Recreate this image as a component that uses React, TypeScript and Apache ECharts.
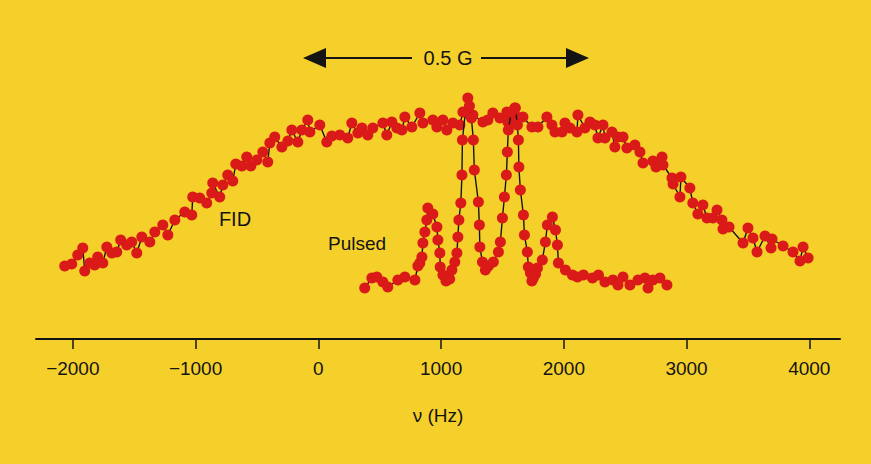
import React, { useEffect, useRef } from "react";
import * as echarts from "echarts";

// FID spectrum: frequency (Hz) and intensity (a.u.)
const fidHz = [
  -2066, -2009, -1960, -1919, -1903, -1862, -1822, -1797, -1756, -1723, -1682, -1642, -1610, -1561,
  -1520, -1479, -1438, -1373, -1332, -1267, -1226, -1169, -1088, -1031, -1023, -966, -909, -868,
  -860, -803, -778, -738, -697, -672, -623, -583, -550, -501, -452, -412, -395, -355, -297, -248,
  -216, -167, -134, -86, -69, 12, 69, 110, 175, 240, 273, 322, 355, 403, 444, 526, 558, 599, 640,
  681, 705, 762, 827, 852, 933, 966, 1015, 1047, 1096, 1153, 1178, 1218, 1235, 1259, 1341, 1381,
  1422, 1479, 1536, 1544, 1601, 1618, 1667, 1740, 1789, 1862, 1903, 1928, 1985, 2009, 2050, 2107,
  2115, 2172, 2213, 2253, 2278, 2319, 2335, 2392, 2416, 2441, 2482, 2514, 2579, 2620, 2645, 2726,
  2751, 2800, 2808, 2881, 2890, 2946, 2954, 3027, 3051, 3092, 3133, 3166, 3215, 3248, 3288, 3297,
  3346, 3460, 3500, 3541, 3574, 3639, 3688, 3696, 3786, 3867, 3924, 3949, 3990,
];
const fidVal = [
  73, 75, 84, 91, 68, 76, 74, 82, 76, 92, 86, 87, 99, 94,
  97, 86, 102, 97, 107, 114, 104, 119, 127, 124, 142, 141, 136, 146,
  156, 142, 154, 164, 158, 175, 173, 182, 173, 179, 187, 177, 196, 202, 192, 198,
  209, 197, 209, 219, 207, 214, 197, 203, 204, 201, 216, 206, 211, 204, 211, 216, 204, 217, 211,
  209, 222, 212, 226, 216, 219, 212, 219, 209, 216, 214, 227, 241, 224, 224, 217, 219,
  226, 221, 227, 217, 231, 222, 222, 212, 212, 222, 214, 207, 207, 216, 211, 207,
  224, 211, 217, 214, 201, 214, 201, 207, 192, 202, 202, 191, 194, 187, 176, 178,
  172, 182, 174, 161, 155, 142, 162, 151, 136, 125, 134, 121, 121, 129, 119, 110,
  112, 96, 111, 101, 87, 103, 91, 100, 93, 87, 78, 92, 81,
];

// Pulsed spectrum: frequency (Hz) and intensity (a.u.)
const pulsedHz = [
  378, 436, 477, 526, 566, 648, 705, 787, 811, 827, 844, 852, 868, 884, 892, 933, 966, 974, 990,
  993, 1015, 1040, 1055, 1070, 1088, 1112, 1129, 1137, 1145, 1161, 1170, 1174, 1198, 1231, 1247,
  1263, 1271, 1304, 1312, 1316, 1337, 1361, 1386, 1426, 1467, 1483, 1500, 1516, 1532, 1540, 1548,
  1573, 1605, 1622, 1630, 1634, 1646, 1671, 1679, 1703, 1711, 1728, 1740, 1752, 1770, 1785, 1825,
  1850, 1866, 1907, 1932, 1948, 1956, 2013, 2070, 2111, 2160, 2233, 2282, 2335, 2400, 2441, 2482,
  2539, 2604, 2661, 2686, 2726, 2783, 2840,
];
const pulsedVal = [
  51, 61, 62, 57, 52, 59, 62, 59, 73, 76, 82, 96, 107, 119, 131, 125, 112, 99, 86,
  72, 64, 58, 62, 60, 69, 77, 86, 102, 119, 136, 164, 199, 227, 233, 221,
  199, 169, 137, 114, 92, 77, 69, 73, 77, 87, 97, 121, 142, 164, 187, 209,
  227, 231, 214, 199, 172, 149, 124, 104, 87, 72, 66, 58, 61, 65, 71, 79,
  97, 114, 122, 109, 94, 76, 69, 64, 62, 64, 61, 64, 57, 59, 54, 62,
  54, 59, 61, 51, 59, 61, 54,
];

// Axis ticks
const tickValues = [-2000, -1000, 0, 1000, 2000, 3000, 4000];

const BG = "#f6d02a";
const DOT = "#da1a18";
const INK = "#141414";

export default function App() {
  const ref = useRef<HTMLDivElement>(null);

  useEffect(() => {
    document.body.style.margin = "0";
    const chart = echarts.init(ref.current!, undefined, { renderer: "svg" });
    const fid = fidHz.map((x, i) => [x, fidVal[i]]);
    const pulsed = pulsedHz.map((x, i) => [x, pulsedVal[i]]);
    const font = "'Liberation Sans', Arial, Helvetica, sans-serif";
    chart.setOption({
      animation: false,
      backgroundColor: BG,
      grid: { left: 36, right: 31, top: 89, bottom: 125 },
      xAxis: {
        type: "value",
        min: -2300,
        max: 4250,
        name: "ν (Hz)",
        nameLocation: "middle",
        nameGap: 67,
        nameTextStyle: { color: INK, fontSize: 19, fontFamily: font },
        splitLine: { show: false },
        axisLine: { show: true, onZero: false, lineStyle: { color: INK, width: 2 } },
        axisTick: {
          show: true,
          customValues: tickValues,
          length: 10,
          lineStyle: { color: INK, width: 1.5 },
        },
        axisLabel: {
          customValues: tickValues,
          color: INK,
          fontSize: 19,
          fontFamily: font,
          margin: 20,
          formatter: (v: number) => String(v).replace("-", "\u2212"),
        },
      },
      yAxis: { type: "value", min: 0, max: 250, show: false },
      series: [
        {
          name: "FID",
          type: "line",
          data: fid,
          symbol: "circle",
          symbolSize: 11,
          showSymbol: true,
          itemStyle: { color: DOT },
          lineStyle: { color: INK, width: 1.4 },
          emphasis: { disabled: true },
          z: 2,
        },
        {
          name: "Pulsed",
          type: "line",
          data: pulsed,
          symbol: "circle",
          symbolSize: 11,
          showSymbol: true,
          itemStyle: { color: DOT },
          lineStyle: { color: INK, width: 1.4 },
          emphasis: { disabled: true },
          z: 3,
        },
      ],
      graphic: [
        { type: "polygon", shape: { points: [[303, 58], [326, 48], [326, 68]] }, style: { fill: INK } },
        { type: "line", shape: { x1: 324, y1: 58, x2: 412, y2: 58 }, style: { stroke: INK, lineWidth: 2 } },
        {
          type: "text",
          x: 448,
          y: 58,
          style: { text: "0.5 G", fill: INK, font: `20px ${font}`, align: "center", verticalAlign: "middle" },
        },
        { type: "line", shape: { x1: 481, y1: 58, x2: 569, y2: 58 }, style: { stroke: INK, lineWidth: 2 } },
        { type: "polygon", shape: { points: [[589, 58], [566, 48], [566, 68]] }, style: { fill: INK } },
        {
          type: "text",
          x: 235,
          y: 219,
          style: { text: "FID", fill: INK, font: `20px ${font}`, align: "center", verticalAlign: "middle" },
        },
        {
          type: "text",
          x: 357,
          y: 243,
          style: { text: "Pulsed", fill: INK, font: `19px ${font}`, align: "center", verticalAlign: "middle" },
        },
      ],
    });
    return () => chart.dispose();
  }, []);

  return <div ref={ref} style={{ width: 871, height: 464, background: BG }} />;
}
